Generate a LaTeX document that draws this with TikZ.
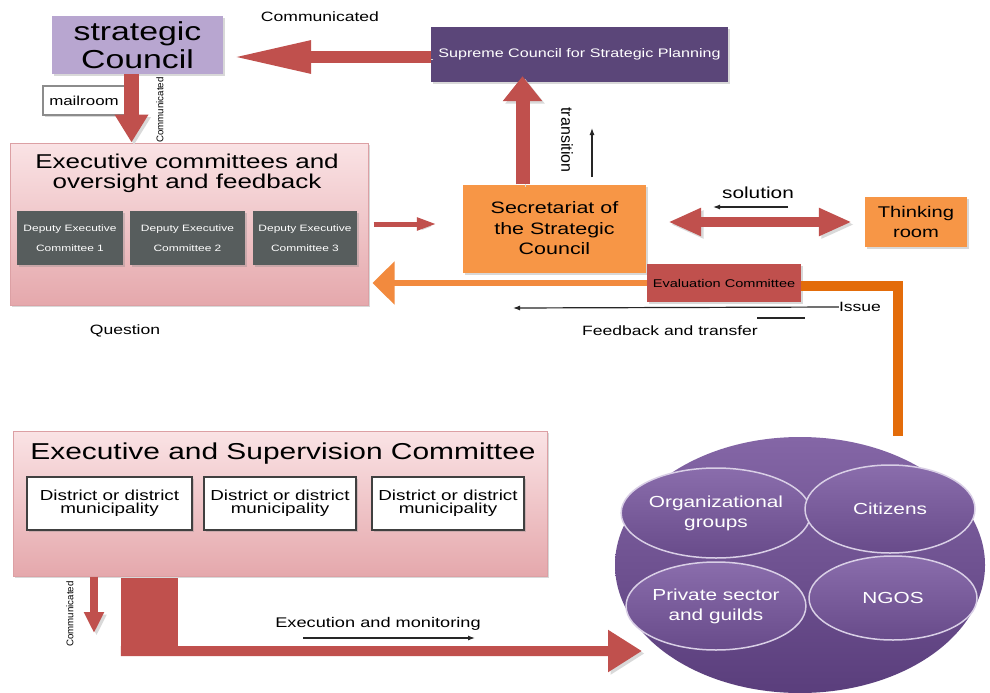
\documentclass[tikz,border=0pt]{standalone}
\usepackage{fontspec}
\setmainfont{Liberation Sans}[FakeStretch=1.3]
\newfontfamily\uprightfont{Liberation Sans}
\usetikzlibrary{arrows.meta,shapes.geometric,shadows}

\definecolor{arrowred}{HTML}{C0504D}
\definecolor{lavender}{HTML}{B8A6D0}
\definecolor{supremeviolet}{HTML}{5B4679}
\definecolor{secorange}{HTML}{F79646}
\definecolor{lineorange}{HTML}{F28A3E}
\definecolor{darkorange}{HTML}{E36C0A}
\definecolor{deputygray}{HTML}{575D5D}
\definecolor{pinktop}{HTML}{FAE3E5}
\definecolor{pinkbottom}{HTML}{E5A8AC}
\definecolor{pinkedge}{HTML}{DCA0A4}
\definecolor{publictop}{HTML}{8466A6}
\definecolor{publicbottom}{HTML}{5A3E7C}
\definecolor{grouptop}{HTML}{8A6DAC}
\definecolor{groupbottom}{HTML}{684B8A}
\definecolor{groupedge}{HTML}{D9CFE6}

\newcommand\setfs[2]{\fontsize{#1}{#2}\selectfont}

\tikzset{
  shadowed/.style={drop shadow={shadow xshift=2pt, shadow yshift=-2pt, opacity=0.3}},
  box/.style={rectangle, inner sep=0pt, align=center, shadowed},
  panel/.style={box, top color=pinktop, bottom color=pinkbottom, draw=pinkedge, line width=1pt},
  deputy/.style={box, fill=deputygray, text=white, minimum height=54, font=\setfs{9.2}{20}},
  district/.style={box, fill=white, draw=black!75, line width=1.3pt, minimum height=53, font=\setfs{14.5}{13}},
  group/.style={ellipse, inner sep=0pt, align=center, top color=grouptop, bottom color=groupbottom,
    draw=groupedge, line width=1.5pt, text=white, font=\setfs{16}{20}},
  tag/.style={inner sep=0pt, font=\setfs{13.5}{16}},
  bigarrow/.style={draw=arrowred, preaction={draw=black!15, transform canvas={shift={(2.5pt,-2.5pt)}}}},
  pointer/.style={draw=black!85, line width=1.2pt, -{Latex[length=7pt,width=5pt]}}
}

\begin{document}
\begin{tikzpicture}[x=1pt, y=-1pt]
  % canvas
  \path[use as bounding box, fill=white] (0,0) rectangle (990,693);

  % strategic council and supreme council
  \node[box, fill=lavender, minimum width=171, minimum height=58, font=\setfs{26}{28}] (council) at (137.5,45) {strategic\\Council};
  \node[box, fill=supremeviolet, text=white, minimum width=297, minimum height=55, font=\setfs{12.4}{14}] (supreme) at (579.5,54.5) {Supreme Council for Strategic Planning};
  \node[tag] (commTop) at (320,17) {Communicated};

  % mailroom
  \node[box, fill=white, draw=black!45, line width=1.2pt, minimum width=82, minimum height=29, font=\setfs{13}{15}] (mailroom) at (84,100.5) {mailroom};
  \node[rotate=90, inner sep=0pt, font=\uprightfont\setfs{9.7}{11}] (commMail) at (160,110) {Communicated};

  % executive committees
  \node[panel, minimum width=358, minimum height=162] (exec) at (189,224) {};
  \node[font=\setfs{20}{20}, align=center] (execTitle) at (187,173) {Executive committees and\\oversight and feedback};
  \foreach \x/\w/\n in {70/106/1,187.5/115/2,305/104/3}
    \node[deputy, minimum width=\w] (dep\n) at (\x,238) {Deputy Executive\\Committee \n};

  % secretariat, thinking room, evaluation
  \node[box, fill=secorange, minimum width=183, minimum height=88, font=\setfs{16.5}{20.5}] (sec) at (554.5,228.5) {Secretariat of\\the Strategic\\Council};
  \node[box, fill=secorange, minimum width=102, minimum height=50, font=\setfs{15.5}{20}] (think) at (916,222) {Thinking\\room};
  \node[box, fill=arrowred, minimum width=154, minimum height=38, font=\setfs{11.2}{13}] (eval) at (724,283) {Evaluation Committee};

  % labels
  \node[rotate=-90, inner sep=0pt, font=\uprightfont\setfs{16}{18}] (transition) at (567,140) {transition};
  \node[tag, font=\setfs{16}{18}] (solution) at (758,193) {solution};
  \node[tag] (issue) at (860,307) {Issue};
  \node[tag] (feedback) at (670,331) {Feedback and transfer};
  \node[tag] (question) at (125,331) {Question};

  % executive and supervision committee
  \node[panel, minimum width=534, minimum height=145] (exsup) at (280,503.5) {};
  \node[font=\setfs{23}{25}] (exsupTitle) at (283,454) {Executive and Supervision Committee};
  \foreach \x/\w/\n in {109.5/165/1,280/152/2,448/152/3}
    \node[district, minimum width=\w] (dist\n) at (\x,503.5) {District or district\\municipality};
  \node[rotate=90, inner sep=0pt, font=\uprightfont\setfs{9.7}{11}] (commLow) at (70,614) {Communicated};
  \node[tag, font=\setfs{14}{16}] (execution) at (378,624) {Execution and monitoring};
  \node[rectangle, inner sep=0pt, fill=arrowred, minimum width=57, minimum height=78] (lblock) at (149.5,617) {};

  % public ellipse
  \node[ellipse, inner sep=0pt, minimum width=370, minimum height=256, top color=publictop, bottom color=publicbottom] (public) at (800,565) {};
  \node[group, minimum width=178, minimum height=90] (orggroups) at (716,513) {Organizational\\groups};
  \node[group, minimum width=170, minimum height=88] (citizens) at (890,509) {Citizens};
  \node[group, minimum width=178, minimum height=88] (private) at (716,606) {Private sector\\and guilds};
  \node[group, minimum width=168, minimum height=84] (ngos) at (893,598) {NGOS};

  % block arrows
  \draw[bigarrow, line width=12pt, -{Triangle[length=80pt,width=30pt]}, shorten >=8pt] ([yshift=-2.5pt]supreme.west) -- ([yshift=-2.5pt]supreme.west -| council.east);
  \draw[bigarrow, line width=15pt, -{Triangle[length=28pt,width=32pt]}] ([xshift=-6pt]council.south) -- ([xshift=-6pt]council.south |- exec.north);
  \draw[bigarrow, line width=14pt, -{Triangle[length=25pt,width=38pt]}, shorten >=-6pt] ([xshift=-32pt]sec.north) -- ([xshift=-32pt]sec.north |- supreme.south);
  \draw[bigarrow, line width=10pt, {Triangle[length=33pt,width=26pt]}-{Triangle[length=33pt,width=26pt]}, shorten <=22pt, shorten >=13pt] (think.west -| sec.east) -- (think.west);
  \draw[bigarrow, line width=5pt, -{Triangle[length=20pt,width=12pt]}, shorten <=5pt, shorten >=26pt] (exec.east) -- (exec.east -| sec.west);

  % feedback loop
  \draw[line width=6pt, draw=lineorange, -{Triangle[length=22pt,width=42pt]}, shorten >=4pt] (eval.west) -- (eval.west -| exec.east);
  \coordinate (drop) at (898,436);
  \draw[line width=10pt, draw=darkorange] ([yshift=-3pt]eval.east) -| (drop);
  \coordinate (fbtip) at (513,308);
  \draw[pointer] (issue.west) -- (fbtip);
  \draw[line width=1.2pt, black!85] (757,318) -- (805,318);

  % small direction arrows
  \draw[pointer] (592,177) -- (592,128);
  \draw[pointer] (788,207) -- (713,207);
  \draw[pointer] (303,638) -- (475,638);

  % bottom arrows
  \coordinate (commEnd) at (94,633);
  \draw[bigarrow, line width=8pt, -{Triangle[length=21pt,width=19pt]}] (exsup.south -| commEnd) -- (commEnd);
  \coordinate (execEnd) at (642,651);
  \draw[bigarrow, line width=10pt, -{Triangle[length=34pt,width=40pt]}] ([yshift=5pt]lblock.south west) -- (execEnd);
\end{tikzpicture}
\end{document}
